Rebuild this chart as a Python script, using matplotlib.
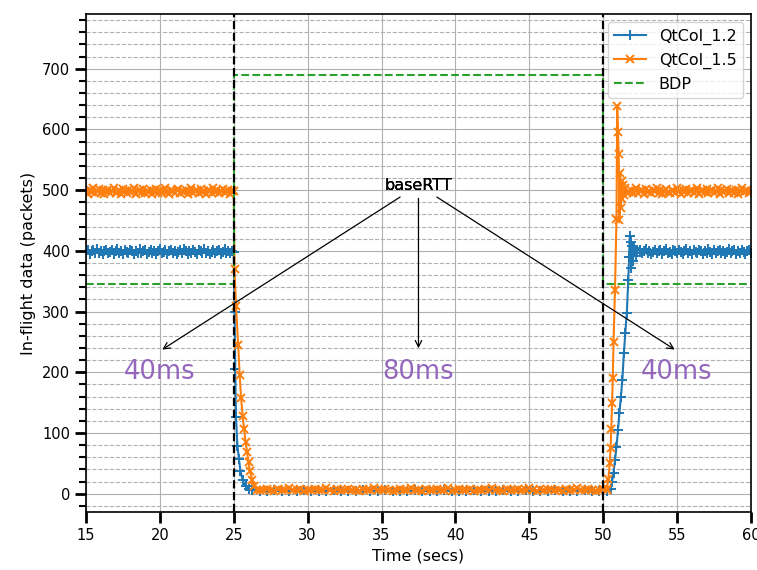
import numpy as np
import matplotlib
matplotlib.use("Agg")
import matplotlib.pyplot as plt
from matplotlib.ticker import MultipleLocator

# ---- QtCol_1.2 (blue) ----
blue_steady_a = [398, 402, 395, 399, 401, 396, 403, 397, 400, 394,
                 399, 402, 396, 398, 401, 395, 400, 403, 397, 399,
                 394, 401, 398, 396, 402, 399, 395, 400, 397, 403,
                 396, 399, 401, 394, 398, 402, 397, 400, 395, 399,
                 403, 396, 398, 401, 394, 399, 402, 397, 400, 395,
                 398, 401, 396, 403, 399, 394, 400, 397, 402, 398,
                 395, 401, 399, 396, 403, 397, 400, 394, 398, 402,
                 396, 399, 401, 395, 398, 403, 397, 400, 396, 399]
blue_drop_t = [25.0, 25.05, 25.1, 25.15, 25.25, 25.35, 25.45, 25.6, 25.8, 26.0]
blue_drop_v = [398, 300, 205, 127, 78, 57, 37, 23, 12, 8]
blue_low = [6, 5, 4, 6, 5, 5, 4, 6, 5, 4,
            5, 6, 4, 5, 5, 6, 4, 5, 6, 5,
            4, 5, 6, 5, 4, 5, 6, 4, 5, 5,
            6, 4, 5, 5, 6, 4, 5, 6, 5, 4,
            5, 6, 4, 5, 5, 6, 4, 5, 5]
blue_rise_t = [50.5, 50.6, 50.7, 50.8, 50.9, 51.0, 51.1, 51.2, 51.3, 51.4, 51.5,
               51.6, 51.7, 51.75, 51.8, 51.85, 51.9, 51.95, 52.0, 52.1, 52.2, 52.3]
blue_rise_v = [8, 20, 35, 55, 77, 105, 133, 160, 188, 232, 265,
               298, 352, 390, 425, 415, 372, 408, 384, 404, 392, 401]
blue_steady_b = [401, 396, 399, 403, 397, 400, 394, 398, 402, 396,
                 399, 401, 395, 400, 403, 397, 398, 394, 401, 399,
                 396, 402, 398, 395, 400, 403, 397, 399, 394, 401,
                 398, 396, 402, 399, 395, 400, 397, 403, 398, 394,
                 401, 396, 399, 402, 397, 400, 395, 398, 403, 396,
                 399, 401, 394, 400, 397, 402, 398, 395, 399, 401, 397]

# ---- QtCol_1.5 (orange) ----
orange_steady_a = [498, 494, 501, 497, 503, 495, 499, 502, 496, 500,
                   493, 498, 501, 496, 499, 503, 495, 497, 500, 494,
                   502, 498, 495, 501, 497, 499, 503, 494, 498, 500,
                   496, 502, 495, 499, 497, 501, 493, 498, 502, 496,
                   500, 495, 499, 503, 497, 494, 501, 498, 496, 500,
                   502, 495, 498, 497, 501, 494, 499, 503, 496, 498,
                   500, 495, 502, 497, 499, 494, 501, 498, 496, 503,
                   497, 500, 495, 499, 502, 496, 498, 501, 494, 499]
orange_drop_t = [25.0, 25.05, 25.15, 25.3, 25.4, 25.5, 25.6, 25.7, 25.8,
                 25.9, 26.0, 26.1, 26.25, 26.4, 26.6]
orange_drop_v = [498, 370, 310, 245, 195, 157, 128, 107, 85,
                 68, 52, 37, 23, 12, 7]
orange_low = [7, 6, 8, 7, 5, 8, 6, 7, 9, 6, 7, 8, 5, 7, 6, 8, 7, 6, 9,
              7, 5, 8, 6, 7, 8, 6, 7, 5, 8, 7, 6, 9, 7, 6, 8, 7, 5, 7,
              8, 6, 7, 9, 6, 7, 5, 8, 7, 6, 8, 7, 6, 9, 5, 7, 8, 6, 7,
              8, 5, 7, 6, 8, 7, 9, 6, 7, 5, 8, 7, 6, 8, 7, 6, 9, 7, 5,
              8, 6, 7, 8, 6, 7, 5, 8, 7, 6, 9, 7, 6, 8, 7, 5, 7, 8, 6]
orange_rise_t = [50.25, 50.35, 50.45, 50.5, 50.55, 50.6, 50.65, 50.7, 50.8, 50.9,
                 50.95, 51.0, 51.05, 51.1, 51.15, 51.2, 51.25, 51.3, 51.35, 51.4,
                 51.5, 51.6]
orange_rise_v = [8, 25, 50, 75, 107, 150, 190, 250, 335, 452,
                 638, 595, 560, 450, 528, 470, 515, 485, 508, 492,
                 503, 496]
orange_steady_b = [497, 501, 495, 499, 503, 496, 498, 500, 494, 502,
                   497, 499, 495, 501, 498, 503, 496, 500, 494, 499,
                   502, 497, 495, 501, 498, 496, 503, 499, 494, 500,
                   497, 502, 495, 498, 501, 496, 499, 503, 494, 498,
                   500, 497, 502, 495, 499, 501, 496, 498, 503, 494,
                   500, 497, 499, 502, 495, 498, 501, 496, 500, 494,
                   499, 503, 497, 498, 501, 495, 499]

# ---- BDP ----
bdp_t = [15, 25, 25, 50, 50, 60]
bdp_v = [345, 345, 690, 690, 345, 345]

rtt_change_t = [25, 50]
rtt_labels = ["40ms", "80ms", "40ms"]
rtt_label_x = [20, 37.5, 55]

blue_t = np.concatenate([np.arange(len(blue_steady_a)) * 0.125 + 15.0, blue_drop_t,
                         np.arange(len(blue_low)) * 0.5 + 26.25, blue_rise_t,
                         np.arange(len(blue_steady_b)) * 0.125 + 52.5])
blue_v = np.concatenate([blue_steady_a, blue_drop_v, blue_low,
                         blue_rise_v, blue_steady_b])
orange_t = np.concatenate([np.arange(len(orange_steady_a)) * 0.125 + 15.0, orange_drop_t,
                           np.arange(len(orange_low)) * 0.25 + 26.75, orange_rise_t,
                           np.arange(len(orange_steady_b)) * 0.125 + 51.75])
orange_v = np.concatenate([orange_steady_a, orange_drop_v, orange_low,
                           orange_rise_v, orange_steady_b])

fig = plt.figure(figsize=(7.57, 5.70), dpi=100)
ax = fig.add_axes([0.1136, 0.1018, 0.8784, 0.8736])

ax.plot(blue_t, blue_v, color="tab:blue", marker="+", markersize=7, mew=1.4,
        label="QtCol_1.2")
ax.plot(orange_t, orange_v, color="tab:orange", marker="x", markersize=6, mew=1.4,
        label="QtCol_1.5")
ax.plot(bdp_t, bdp_v, color="tab:green", ls="--", lw=1.5, label="BDP")
for t in rtt_change_t:
    ax.axvline(t, color="k", ls="--", lw=1.6, zorder=3)

for xl in rtt_label_x:
    ax.annotate("baseRTT", xy=(xl, 235), xytext=(37.5, 508), ha="center", va="center",
                fontsize=11.5, arrowprops=dict(arrowstyle="->", color="k", lw=0.9))
for xl, lab in zip(rtt_label_x, rtt_labels):
    ax.text(xl, 200, lab, color="tab:purple", fontsize=18.5, ha="center", va="center")

ax.set_xlim(15, 60)
ax.set_ylim(-30, 790)
ax.xaxis.set_major_locator(MultipleLocator(5))
ax.yaxis.set_major_locator(MultipleLocator(100))
ax.yaxis.set_minor_locator(MultipleLocator(20))
ax.tick_params(which="major", length=8, width=2, labelsize=10.5)
ax.tick_params(which="minor", length=5, width=1.5)
ax.grid(which="major", color="#b0b0b0", lw=0.8)
ax.grid(which="minor", axis="y", color="#b0b0b0", ls="--", lw=0.8)
for s in ax.spines.values():
    s.set_linewidth(1.2)

ax.set_xlabel("Time (secs)", fontsize=11.5)
ax.set_ylabel("In-flight data (packets)", fontsize=11.5)
ax.legend(loc="upper right", fontsize=11.5)

fig.savefig("out.png", dpi=100)
